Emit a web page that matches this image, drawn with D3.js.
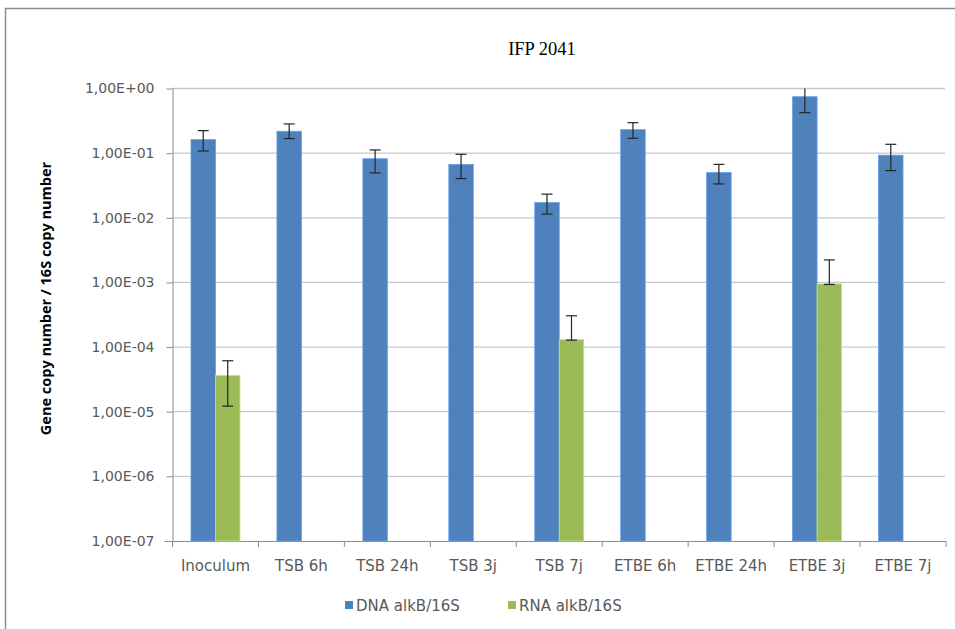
<!DOCTYPE html>
<html>
<head>
<meta charset="utf-8">
<script src="https://cdn.jsdelivr.net/npm/d3@7"></script>
<style>
  body { margin: 0; background: #fff; }
  svg { display: block; }
</style>
</head>
<body>
<svg id="chart" width="955" height="629"></svg>
<script>
// categories and values
var categories = ["Inoculum", "TSB 6h", "TSB 24h", "TSB 3j", "TSB 7j", "ETBE 6h", "ETBE 24h", "ETBE 3j", "ETBE 7j"];
var dnaValues = [0.162, 0.218, 0.082, 0.067, 0.0172, 0.231, 0.050, 0.746, 0.093];
var dnaHigh   = [0.223, 0.283, 0.112, 0.096, 0.0232, 0.296, 0.067, 1.3, 0.137];
var dnaLow    = [0.108, 0.168, 0.0494, 0.0404, 0.0114, 0.170, 0.0334, 0.423, 0.0537];
var rnaValues = [3.64e-5, null, null, null, 1.30e-4, null, null, 9.5e-4, null];
var rnaHigh   = [6.14e-5, null, null, null, 3.05e-4, null, null, 2.23e-3, null];
var rnaLow    = [1.22e-5, null, null, null, 1.28e-4, null, null, 9.3e-4, null];
var yTicks = [1, 1e-1, 1e-2, 1e-3, 1e-4, 1e-5, 1e-6, 1e-7];
var seriesNames = ["DNA alkB/16S", "RNA alkB/16S"];
var colors = ["#4f81bd", "#9bbb59"];

var svg = d3.select("#chart");

// outer chart border
svg.append("rect")
    .attr("x", 5.5).attr("y", 8.5)
    .attr("width", 970).attr("height", 640)
    .attr("fill", "none").attr("stroke", "#8c8c8c").attr("stroke-width", 1.5);

var plotLeft = 172.5, plotRight = 946, plotTop = 88.5, plotBottom = 541;

var x = d3.scaleBand().domain(categories).range([plotLeft, plotRight]);
var y = d3.scaleLog().domain([1e-7, 1]).range([plotBottom, plotTop]);

// gridlines
svg.append("g").selectAll("line")
    .data(yTicks.filter(function(t) { return t > 1e-7; }))
    .enter().append("line")
    .attr("x1", plotLeft).attr("x2", plotRight - 1)
    .attr("y1", function(d) { return y(d); })
    .attr("y2", function(d) { return y(d); })
    .attr("stroke", "#c9c9c9").attr("stroke-width", 1.3);

// y axis
var yAxis = d3.axisLeft(y)
    .tickValues(yTicks)
    .tickSize(6)
    .tickPadding(12)
    .tickFormat(function(d) {
        var e = Math.round(Math.log10(d));
        var s = Math.abs(e) < 10 ? "0" + Math.abs(e) : "" + Math.abs(e);
        return "1,00E" + (e < 0 ? "-" : "+") + s;
    });
var gy = svg.append("g").attr("transform", "translate(" + plotLeft + ",0)").call(yAxis);
gy.select(".domain").attr("stroke", "#8c8c8c").attr("d", "M0.5," + plotTop + "V" + plotBottom);
gy.selectAll(".tick line").attr("stroke", "#8c8c8c");
gy.selectAll("text")
    .attr("fill", "#595959")
    .style("font-family", "DejaVu Sans")
    .style("font-size", "14px");

// x axis
var xAxis = d3.axisBottom(x).tickSize(0).tickPadding(19);
var gx = svg.append("g").attr("transform", "translate(0," + plotBottom + ")").call(xAxis);
gx.select(".domain").attr("stroke", "#8c8c8c").attr("d", "M" + (plotLeft - 8) + ",0.5H" + plotRight);
gx.selectAll("text")
    .attr("fill", "#595959")
    .style("font-family", "DejaVu Sans")
    .style("font-size", "15px");
// tick marks between categories
gx.append("g").selectAll("line")
    .data(categories.concat(["end"]))
    .enter().append("line")
    .attr("x1", function(d, i) { return plotLeft + i * x.bandwidth(); })
    .attr("x2", function(d, i) { return plotLeft + i * x.bandwidth(); })
    .attr("y1", 0).attr("y2", 6)
    .attr("stroke", "#8c8c8c");

// bars
var gap = x.bandwidth() * 0.215;
var barW = (x.bandwidth() - 2 * gap) / 2;
var series = [
    { values: dnaValues, high: dnaHigh, low: dnaLow, offset: 0 },
    { values: rnaValues, high: rnaHigh, low: rnaLow, offset: 1 }
];

series.forEach(function(s, si) {
    var g = svg.append("g");
    categories.forEach(function(c, i) {
        var v = s.values[i];
        if (v == null) return;
        var bx = x(c) + gap + s.offset * barW;
        g.append("rect")
            .attr("x", bx).attr("y", y(v))
            .attr("width", barW).attr("height", plotBottom - y(v))
            .attr("fill", colors[si])
            .attr("stroke", d3.color(colors[si]).brighter(0.6))
            .attr("stroke-width", 0.8);

        // error bar, clipped at the top of the plot
        var cx = bx + barW / 2;
        var hi = Math.min(s.high[i], 1);
        g.append("line")
            .attr("x1", cx).attr("x2", cx)
            .attr("y1", y(hi)).attr("y2", y(s.low[i]))
            .attr("stroke", "#262626").attr("stroke-width", 1.2);
        if (s.high[i] <= 1) {
            g.append("line")
                .attr("x1", cx - 5.5).attr("x2", cx + 5.5)
                .attr("y1", y(hi)).attr("y2", y(hi))
                .attr("stroke", "#262626").attr("stroke-width", 1.2);
        }
        g.append("line")
            .attr("x1", cx - 5.5).attr("x2", cx + 5.5)
            .attr("y1", y(s.low[i])).attr("y2", y(s.low[i]))
            .attr("stroke", "#262626").attr("stroke-width", 1.2);
    });
});

// title
svg.append("text")
    .attr("x", 542).attr("y", 55)
    .attr("text-anchor", "middle")
    .style("font-family", "Liberation Serif")
    .style("font-size", "18.5px")
    .attr("fill", "#000")
    .text("IFP 2041");

// y axis title
svg.append("text")
    .attr("transform", "translate(51," + ((160 + 437) / 2) + ") rotate(-90)")
    .attr("text-anchor", "middle")
    .style("font-family", "Open Sans")
    .style("font-weight", "bold")
    .style("font-size", "14.5px")
    .attr("fill", "#000")
    .text("Gene copy number / 16S copy number");

// legend
var legendX = [345, 508];
var legend = svg.append("g");
seriesNames.forEach(function(name, i) {
    legend.append("rect")
        .attr("x", legendX[i]).attr("y", 601)
        .attr("width", 8).attr("height", 8)
        .attr("fill", colors[i]);
    legend.append("text")
        .attr("x", legendX[i] + 11).attr("y", 610.5)
        .style("font-family", "DejaVu Sans")
        .style("font-size", "15px")
        .attr("fill", "#595959")
        .text(name);
});
</script>
</body>
</html>
